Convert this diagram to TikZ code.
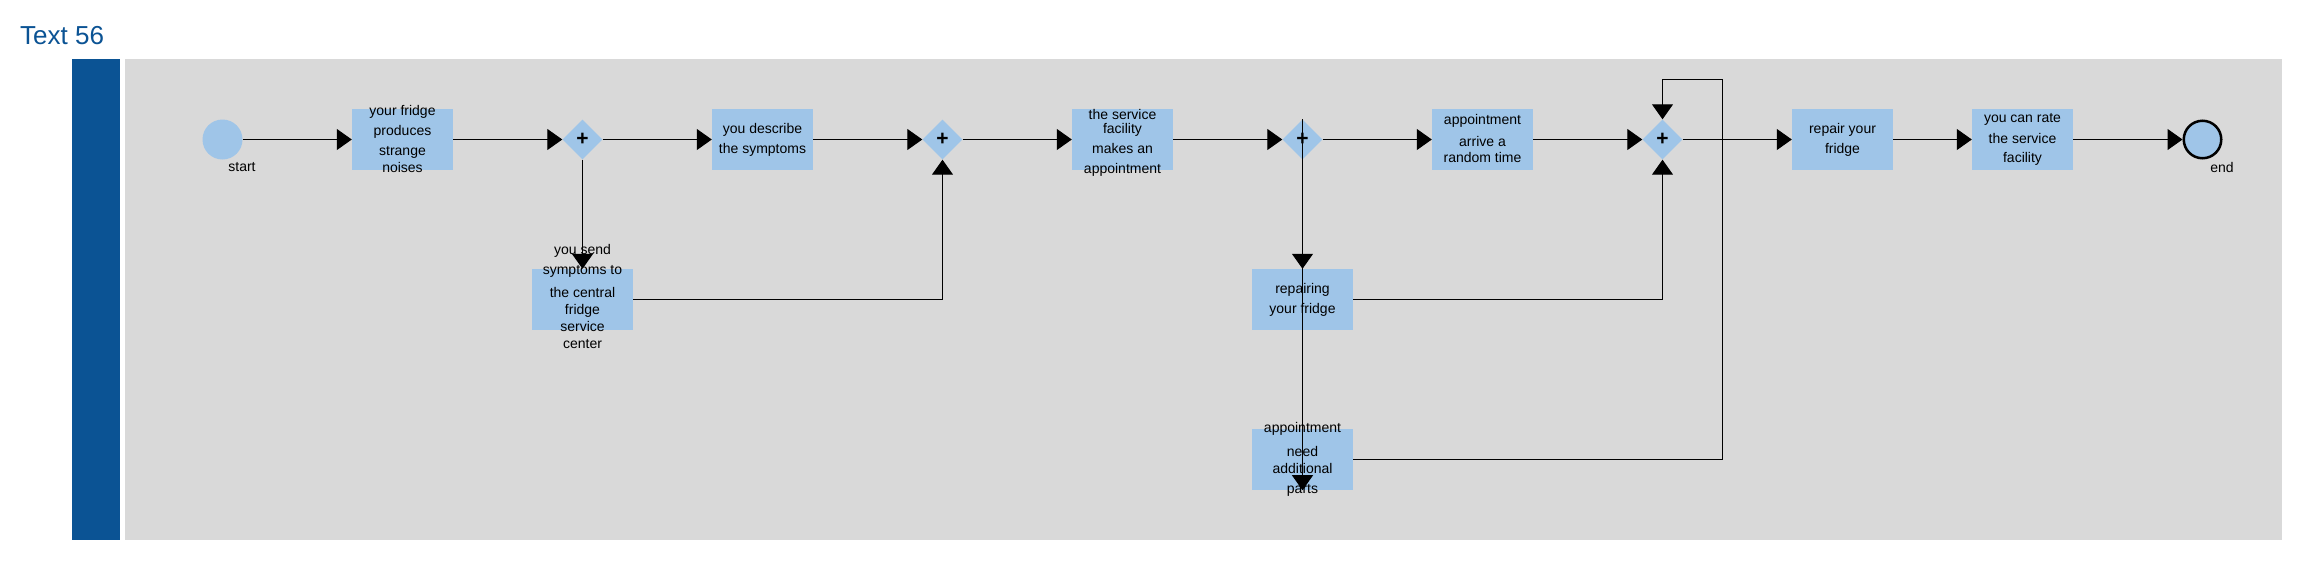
\documentclass[tikz,border=0pt]{standalone}
\usepackage{fontspec}
\setmainfont{Liberation Sans}
\usetikzlibrary{shapes.geometric,arrows.meta}
\definecolor{boxblue}{HTML}{9FC5E8}
\definecolor{lanegray}{HTML}{D9D9D9}
\definecolor{darkblue}{HTML}{0B5394}
\begin{document}
\begin{tikzpicture}[x=1pt,y=-1pt,
  task/.style={fill=boxblue, minimum width=101pt, minimum height=61pt, inner sep=0pt},
  gate/.style={diamond, fill=boxblue, minimum width=40pt, minimum height=40pt, inner sep=0pt, aspect=1, font=\fontsize{21}{21}\selectfont\bfseries},
  txt/.style={align=center, font=\fontsize{14}{20}\selectfont, inner sep=0pt},
  evlabel/.style={font=\fontsize{14}{16}\selectfont, inner sep=0pt},
  flow/.style={draw=black, line width=1pt, -{Triangle[length=15pt,width=21pt]}},
  ]
\useasboundingbox (0,0) rectangle (2299,581);
\fill[white] (0,0) rectangle (2299,581);
% title and lane
\node[anchor=base west, inner sep=0pt, text=darkblue, font=\fontsize{26}{30}\selectfont] (title) at (20,44) {Text 56};
\fill[darkblue] (72,59) rectangle (120,540);
\fill[lanegray] (125,59) rectangle (2282,540);
% events
\node[circle, fill=boxblue, minimum size=40pt, inner sep=0pt] (start) at (222.5,139.5) {};
\node[evlabel] (startlbl) at (242,166.7) {start};
\node[circle, fill=boxblue, draw=black, line width=2.5pt, minimum size=37.5pt, inner sep=0pt] (end) at (2202.5,139.5) {};
\node[evlabel] (endlbl) at (2222,167.7) {end};
% tasks
\node[task] (fridge) at (402.5,139.5) {};
\node[task] (desc) at (762.5,139.5) {};
\node[task] (send) at (582.5,299.5) {};
\node[task] (serv) at (1122.5,139.5) {};
\node[task] (arr) at (1482.5,139.5) {};
\node[task] (rep) at (1302.5,299.5) {};
\node[task] (parts) at (1302.5,459.5) {};
\node[task] (repair) at (1842.5,139.5) {};
\node[task] (rate) at (2022.5,139.5) {};
% gateways
\node[gate] (g1) at (582.5,139.5) {+};
\node[gate] (g2) at (942.5,139.5) {+};
\node[gate] (g3) at (1302.5,139.5) {+};
\node[gate] (g4) at (1662.5,139.5) {+};
% texts
\node[txt] (fridgetxt) at (402.5,138.5) {your fridge\\ produces\\ strange\\[-3pt] noises};
\node[txt] (desctxt) at (762.5,139.5) {you describe\\ the symptoms};
\node[txt] (sendtxt) at (582.5,296.8) {you send\\ symptoms to\\[2.7pt] the central\\[-2.7pt] fridge\\[-3pt] service\\[-3pt] center};
\node[txt] (servtxt) at (1122.5,142.5) {the service\\[-6pt] facility\\ makes an\\ appointment};
\node[txt] (arrtxt) at (1482.5,138.5) {appointment\\[1.4pt] arrive a\\[-3.7pt] random time};
\node[txt] (reptxt) at (1302.5,299.8) {repairing\\ your fridge};
\node[txt] (partstxt) at (1302.5,459.5) {appointment\\[3.3pt] need\\[-3pt] additional\\ parts};
\node[txt] (repairtxt) at (1842.5,139.8) {repair your\\ fridge};
\node[txt] (ratetxt) at (2022.5,139.8) {you can rate\\[0.7pt] the service\\[-0.7pt] facility};
% connectors
\coordinate (loopc) at (1722.5,79.5);
\draw[flow] (start) -- (fridge);
\draw[flow] (fridge) -- (g1);
\draw[flow] (g1) -- (desc);
\draw[flow] (g1) -- (send);
\draw[flow] (desc) -- (g2);
\draw[flow] (send.east) -| (g2.south);
\draw[flow] (g2) -- (serv);
\draw[flow] (serv) -- (g3);
\draw[flow] (g3) -- (arr);
\draw[flow] (g3) -- (rep);
\draw[flow] (g3.north) -- (parts.south);
\draw[flow] (arr) -- (g4);
\draw[flow] (rep.east) -| (g4.south);
\draw[flow] (parts.east) -| (loopc) -| (g4.north);
\draw[flow] (g4) -- (repair);
\draw[flow] (repair) -- (rate);
\draw[flow] (rate) -- (end);
\end{tikzpicture}
\end{document}
